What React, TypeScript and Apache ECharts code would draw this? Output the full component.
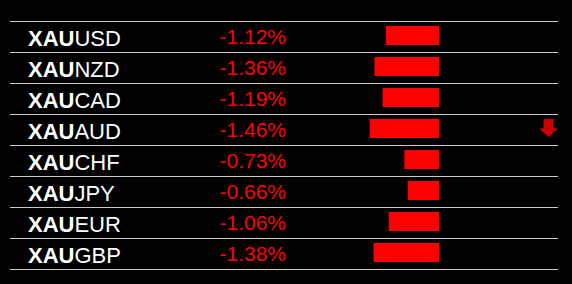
import React, { useEffect, useRef } from "react";
import * as echarts from "echarts";

const pairs = ["XAUUSD", "XAUNZD", "XAUCAD", "XAUAUD", "XAUCHF", "XAUJPY", "XAUEUR", "XAUGBP"];
const changes = [-1.12, -1.36, -1.19, -1.46, -0.73, -0.66, -1.06, -1.38];

const FONT = "'Liberation Sans', Arial, sans-serif";

export default function App() {
  const ref = useRef<HTMLDivElement>(null);
  useEffect(() => {
    if (!ref.current) return;
    const chart = echarts.init(ref.current, undefined, { renderer: "svg" });
    let minIdx = 0;
    changes.forEach((v, i) => {
      if (v < changes[minIdx]) minIdx = i;
    });
    chart.setOption({
      animation: false,
      backgroundColor: "#000000",
      grid: [
        { left: 10, right: 14, top: 21, height: 248 },
        { left: 12, right: 133, top: 20, height: 248 },
      ],
      xAxis: [
        { type: "value", gridIndex: 0, min: 0, max: 1, show: false },
        { type: "value", gridIndex: 1, min: -9, max: 0, show: false },
      ],
      yAxis: [
        {
          type: "category",
          gridIndex: 0,
          inverse: true,
          position: "left",
          data: pairs,
          axisLine: { show: false },
          axisTick: { show: false },
          splitLine: { show: true, lineStyle: { color: "#c8c8c8", width: 1 } },
          axisLabel: {
            inside: true,
            margin: 18,
            padding: [4, 0, 0, 0],
            formatter: (v: string) => `{a|${v.slice(0, 3)}}{b|${v.slice(3)}}`,
            rich: {
              a: { fontFamily: FONT, fontSize: 22, fontWeight: "bold", color: "#ffffff" },
              b: { fontFamily: FONT, fontSize: 22, color: "#ffffff" },
            },
          },
        },
        {
          type: "category",
          gridIndex: 0,
          inverse: true,
          position: "left",
          offset: 0,
          data: pairs,
          axisLine: { show: false },
          axisTick: { show: false },
          splitLine: { show: false },
          axisLabel: {
            inside: true,
            margin: 276,
            align: "right",
            fontFamily: FONT,
            fontSize: 21,
            color: "#ff0000",
            formatter: (_v: string, i: number) => `${changes[i].toFixed(2)}%`,
          },
        },
        {
          type: "category",
          gridIndex: 1,
          inverse: true,
          data: pairs,
          show: false,
        },
      ],
      series: [
        {
          type: "bar",
          xAxisIndex: 1,
          yAxisIndex: 2,
          data: changes,
          barWidth: 19,
          itemStyle: { color: "#ff0000" },
          silent: true,
        },
        {
          type: "scatter",
          xAxisIndex: 0,
          yAxisIndex: 0,
          data: [[1, minIdx]],
          symbol: "path://M4.5,0L14.5,0L14.5,9.5L19,9.5L9.5,18L0,9.5L4.5,9.5Z",
          symbolSize: [19, 18],
          symbolOffset: [-9.5, -1.5],
          itemStyle: { color: "#ff0000" },
          silent: true,
        },
      ],
    });
    return () => chart.dispose();
  }, []);
  return (
    <div
      ref={ref}
      style={{ position: "absolute", left: 0, top: 0, width: 572, height: 284 }}
    />
  );
}
